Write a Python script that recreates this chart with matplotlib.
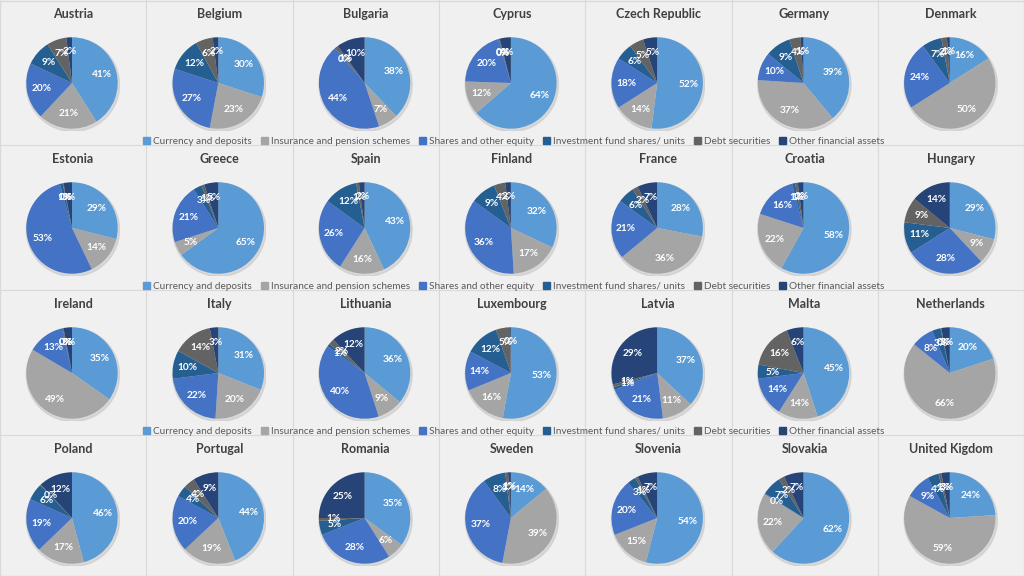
import matplotlib
matplotlib.use('Agg')
import matplotlib.pyplot as plt
import matplotlib.patches as mpatches

plt.rcParams['font.family'] = ['Lato', 'DejaVu Sans']

categories = ['Currency and deposits', 'Insurance and pension schemes', 'Shares and other equity',
              'Investment fund shares/ units', 'Debt securities', 'Other financial assets']
colours = ['#5B9BD5', '#A5A5A5', '#4472C4', '#255E91', '#636363', '#264478']

countries = ['Austria', 'Belgium', 'Bulgaria', 'Cyprus', 'Czech Republic', 'Germany', 'Denmark',
             'Estonia', 'Greece', 'Spain', 'Finland', 'France', 'Croatia', 'Hungary',
             'Ireland', 'Italy', 'Lithuania', 'Luxembourg', 'Latvia', 'Malta', 'Netherlands',
             'Poland', 'Portugal', 'Romania', 'Sweden', 'Slovenia', 'Slovakia', 'United Kigdom']

# shares in %, order as categories
austria = [41, 21, 20, 9, 7, 2]
belgium = [30, 23, 27, 12, 6, 2]
bulgaria = [38, 7, 44, 0.3, 1, 10]
cyprus = [64, 12, 20, 0.3, 0.3, 4]
czech = [52, 14, 18, 6, 5, 5]
germany = [39, 37, 10, 9, 4, 1]
denmark = [16, 50, 24, 7, 2, 1]
estonia = [29, 14, 53, 1, 0.3, 3]
greece = [65, 5, 21, 3, 1, 5]
spain = [43, 16, 26, 12, 1, 2]
finland = [32, 17, 36, 9, 4, 2]
france = [28, 36, 21, 6, 2, 7]
croatia = [58, 22, 16, 1, 1, 2]
hungary = [29, 9, 28, 11, 9, 14]
ireland = [35, 49, 13, 0.3, 0.3, 3]
italy = [31, 20, 22, 10, 14, 3]
lithuania = [36, 9, 40, 1, 2, 12]
luxembourg = [53, 16, 14, 12, 5, 0.3]
latvia = [37, 11, 21, 1, 1, 29]
malta = [45, 14, 14, 5, 16, 6]
netherlands = [20, 66, 8, 3, 0.3, 3]
poland = [46, 17, 19, 6, 0.3, 12]
portugal = [44, 19, 20, 4, 4, 9]
romania = [35, 6, 28, 5, 1, 25]
sweden = [14, 39, 37, 8, 1, 1]
slovenia = [54, 15, 20, 3, 1, 7]
slovakia = [62, 22, 0.3, 7, 2, 7]
uk = [24, 59, 9, 4, 1, 3]

shares = [austria, belgium, bulgaria, cyprus, czech, germany, denmark,
          estonia, greece, spain, finland, france, croatia, hungary,
          ireland, italy, lithuania, luxembourg, latvia, malta, netherlands,
          poland, portugal, romania, sweden, slovenia, slovakia, uk]

W, H = 1024, 576
fig = plt.figure(figsize=(W / 100, H / 100), dpi=100)
fig.patch.set_facecolor('#F0F0F0')

colW = 146.3
rowH = 145
rad = 48

# cell grid lines
bg = fig.add_axes([0, 0, 1, 1])
bg.set_xlim(0, W)
bg.set_ylim(H, 0)
bg.axis('off')
for c in range(1, 7):
    bg.plot([c * colW, c * colW], [0, H], color='#D9D9D9', lw=0.8)
for r in range(1, 4):
    bg.plot([0, W], [r * rowH, r * rowH], color='#D9D9D9', lw=0.8)
bg.plot([0, W, W, 0, 0], [0.5, 0.5, H - 0.5, H - 0.5, 0.5], color='#D9D9D9', lw=1)

for i, (name, vals) in enumerate(zip(countries, shares)):
    r, c = divmod(i, 7)
    cx = c * colW + 72
    cy = r * rowH + 83
    bg.text(c * colW + 73, r * rowH + 14, name, ha='center', va='center',
            fontsize=9, fontweight='bold', color='#404040')
    ax = fig.add_axes([(cx - rad) / W, 1 - (cy + rad) / H, 2 * rad / W, 2 * rad / H])
    # soft shadow
    ax.add_patch(mpatches.Circle((0.02, -0.04), 1.02, color='#C8C8C8', alpha=0.6, zorder=0))
    wedges, texts, autotexts = ax.pie(vals, colors=colours, startangle=90, counterclock=False,
                                      autopct='%1.0f%%', pctdistance=0.68,
                                      wedgeprops=dict(linewidth=0),
                                      textprops=dict(color='white', fontsize=7.3, fontweight='bold'))
    ax.set_xlim(-1.05, 1.05)
    ax.set_ylim(-1.05, 1.05)
    ax.set_aspect('equal')
    ax.axis('off')

handles = [mpatches.Patch(color=col, label=lab) for col, lab in zip(colours, categories)]
for r in range(3):
    fig.legend(handles=handles, loc='center', bbox_to_anchor=(514 / W, 1 - (r * rowH + 141.5) / H),
               ncol=6, frameon=False, fontsize=7.2, handlelength=0.7, handleheight=0.7,
               handletextpad=0.3, columnspacing=0.9, labelcolor='#595959', borderpad=0)

fig.savefig('out.png', dpi=100, facecolor=fig.get_facecolor())
